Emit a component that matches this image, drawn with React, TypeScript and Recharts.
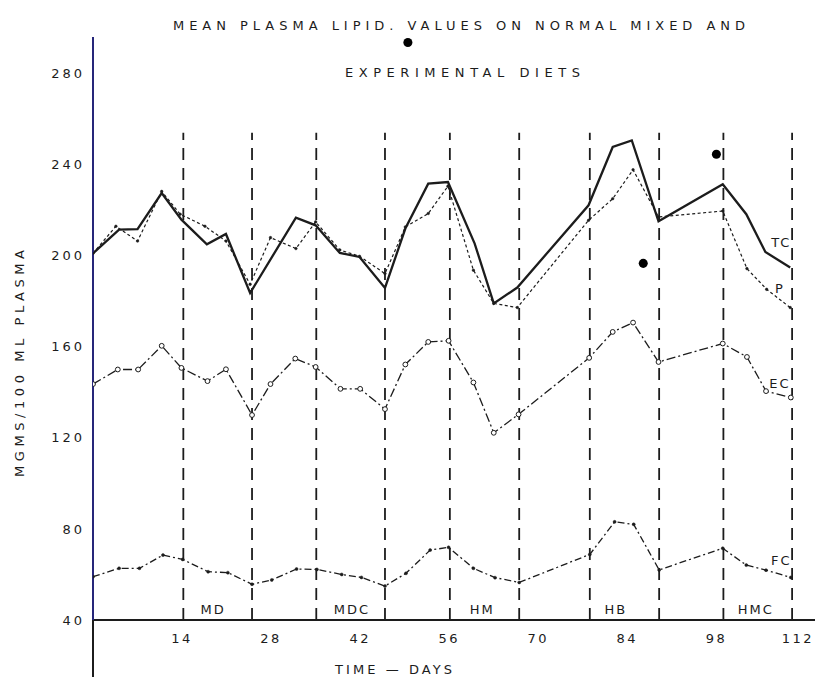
import React from "react";
import {
  ComposedChart,
  Line,
  Scatter,
  XAxis,
  YAxis,
  ReferenceLine,
} from "recharts";

// days; values in mgms / 100 ml plasma
const tcDays = [0, 4.1, 7.0, 10.8, 13.9, 17.9, 20.9, 24.7, 31.9, 35.0, 38.8, 41.9, 45.9, 49.1, 52.7, 55.8, 60.0, 63.0, 66.7, 77.9, 81.7, 84.7, 88.9, 99.0, 102.7, 105.7, 109.6];
const tcValues = [201, 211.4, 211.6, 227.5, 215.8, 205, 209.5, 183.6, 216.7, 213.3, 201.2, 199.4, 185.8, 211.9, 231.6, 232.3, 205.3, 179, 186, 222.1, 247.7, 250.6, 215.1, 231.3, 218.2, 201.6, 194.8];

const pDays = [0, 3.6, 7.0, 10.8, 13.7, 17.6, 20.9, 24.7, 27.9, 31.9, 35.0, 38.8, 41.9, 45.9, 49.1, 52.7, 55.8, 59.8, 63.0, 66.7, 77.9, 81.7, 84.9, 88.9, 99.0, 102.8, 105.9, 109.6];
const pValues = [201, 212.9, 206.4, 228.2, 218.2, 212.9, 206.4, 187.4, 207.9, 203.1, 214.8, 202.5, 199.7, 192.1, 212.6, 218.5, 230.5, 193.6, 179, 177.2, 215.5, 225, 237.7, 217, 219.6, 194.3, 185.2, 177.2];

const ecDays = [0, 3.9, 7.1, 10.8, 13.9, 18.0, 20.9, 25.0, 27.9, 31.8, 35.0, 38.9, 42.0, 45.9, 49.1, 52.7, 55.9, 59.8, 63.0, 66.9, 78.0, 81.7, 84.9, 88.9, 99.0, 102.8, 105.8, 109.7];
const ecValues = [143.6, 150, 150, 160.4, 150.7, 144.9, 150.1, 130, 143.6, 154.8, 151.1, 141.5, 141.5, 132.6, 152.2, 162.1, 162.6, 144.3, 122.2, 130.3, 155.1, 166.5, 170.6, 153.3, 161.4, 155.5, 140.5, 137.7];

const fcDays = [0, 4.1, 7.3, 11.0, 14.1, 18.1, 21.2, 25.0, 28.1, 32.0, 35.2, 39.1, 42.2, 45.9, 49.2, 53.0, 55.9, 59.8, 63.2, 67.0, 78.1, 82.0, 85.0, 89.0, 99.0, 102.7, 105.8, 109.7];
const fcValues = [59, 62.7, 62.7, 68.5, 66.6, 61.2, 60.8, 55.7, 57.6, 62.4, 62.2, 60, 58.7, 54.9, 60.5, 70.7, 71.9, 62.7, 58.6, 56.5, 68.8, 83.1, 82, 62, 71.5, 64.1, 61.9, 58.7];

const dietChangeDays = [14.2, 25, 35.1, 45.9, 56.1, 67, 78.1, 89, 99.1, 109.9];
const dietNames = ["MD", "MDC", "HM", "HB", "HMC"];
const dietLabelDays = [18.9, 40.7, 61.2, 82.2, 104.2];

const seriesNames = ["TC", "P", "EC", "FC"];
const seriesLabelDays = [108.2, 108, 108, 108.2];
const seriesLabelValues = [205.9, 185.7, 144, 66.3];

const strayDotDays = [49.5, 86.5, 98];
const strayDotValues = [293.6, 196.6, 244.5];

const xTicks = [14, 28, 42, 56, 70, 84, 98, 112];
const yTicks = [40, 80, 120, 160, 200, 240, 280];

const toPoints = (days: number[], vals: number[]) =>
  days.map((d, i) => ({ day: d, value: vals[i] }));

const tc = toPoints(tcDays, tcValues);
const p = toPoints(pDays, pValues);
const ec = toPoints(ecDays, ecValues);
const fc = toPoints(fcDays, fcValues);
const dietLabels = dietLabelDays.map((d, i) => ({ day: d, value: 44.4, name: dietNames[i] }));
const seriesLabels = seriesLabelDays.map((d, i) => ({ day: d, value: seriesLabelValues[i], name: seriesNames[i] }));
const strayDots = toPoints(strayDotDays, strayDotValues);

const FONT = "'DejaVu Sans', sans-serif";
const INK = "#1c1c1c";

function TextMark(props: any) {
  const { cx, cy, payload } = props;
  return (
    <text
      x={cx}
      y={cy}
      textAnchor="middle"
      dominantBaseline="central"
      fontFamily={FONT}
      fontSize={13}
      letterSpacing={2}
      fill={INK}
    >
      {payload.name}
    </text>
  );
}

function XTick(props: any) {
  const { x, y, payload } = props;
  // keep the last label inside the page
  const cx = Math.min(x, 798);
  return (
    <text
      x={cx}
      y={y}
      dy="0.71em"
      textAnchor="middle"
      fontFamily={FONT}
      fontSize={13}
      letterSpacing={2.5}
      fill={INK}
    >
      {payload.value}
    </text>
  );
}

export default function App() {
  return (
    <div style={{ position: "absolute", left: 0, top: 0, width: 816, height: 677, background: "#fff" }}>
      <ComposedChart width={816} height={677} margin={{ top: 37, right: 1, bottom: 0, left: 0 }}>
        <XAxis
          type="number"
          dataKey="day"
          domain={[0, 113.5]}
          ticks={xTicks}
          allowDataOverflow
          height={57}
          axisLine={{ stroke: INK, strokeWidth: 2 }}
          tickLine={false}
          tickSize={0}
          tickMargin={14}
          tick={<XTick />}
        />
        <YAxis
          type="number"
          dataKey="value"
          domain={[40, 296]}
          ticks={yTicks}
          allowDataOverflow
          width={93}
          axisLine={{ stroke: "#26267a", strokeWidth: 2 }}
          tickLine={false}
          tickSize={0}
          tickMargin={8}
          tick={{ fontFamily: FONT, fontSize: 13, fill: INK, letterSpacing: 3 }}
        />
        {/* axis continues below the zero line */}
        <ReferenceLine
          segment={[{ x: 0, y: 40 }, { x: 0, y: 15 }]}
          stroke={INK}
          strokeWidth={2}
          ifOverflow="visible"
        />
        {dietChangeDays.map((d) => (
          <ReferenceLine
            key={d}
            segment={[{ x: d, y: 40 }, { x: d, y: 254 }]}
            stroke={INK}
            strokeWidth={1.8}
            strokeDasharray="12 8"
            ifOverflow="visible"
          />
        ))}
        <Line
          data={tc}
          dataKey="value"
          type="linear"
          stroke={INK}
          strokeWidth={2.3}
          dot={false}
          isAnimationActive={false}
        />
        <Line
          data={p}
          dataKey="value"
          type="linear"
          stroke={INK}
          strokeWidth={1.2}
          strokeDasharray="3 2.5"
          dot={{ r: 1.3, fill: INK, stroke: INK, strokeWidth: 0.5, strokeDasharray: "0" }}
          isAnimationActive={false}
        />
        <Line
          data={ec}
          dataKey="value"
          type="linear"
          stroke={INK}
          strokeWidth={1.3}
          strokeDasharray="9 3 2 3"
          dot={{ r: 2.4, fill: "#fff", stroke: INK, strokeWidth: 1, strokeDasharray: "0" }}
          isAnimationActive={false}
        />
        <Line
          data={fc}
          dataKey="value"
          type="linear"
          stroke={INK}
          strokeWidth={1.3}
          strokeDasharray="7 3 2 3"
          dot={{ r: 1.5, fill: INK, stroke: INK, strokeWidth: 0.5, strokeDasharray: "0" }}
          isAnimationActive={false}
        />
        <Scatter data={strayDots} dataKey="value" fill="#000" shape="circle" isAnimationActive={false} />
        <Scatter data={dietLabels} dataKey="value" shape={<TextMark />} isAnimationActive={false} />
        <Scatter data={seriesLabels} dataKey="value" shape={<TextMark />} isAnimationActive={false} />
      </ComposedChart>
      <svg
        width={816}
        height={677}
        style={{ position: "absolute", left: 0, top: 0, pointerEvents: "none" }}
      >
        <text x={173} y={30} fontFamily={FONT} fontSize={13} fill={INK} textLength={572} lengthAdjust="spacing">
          MEAN PLASMA LIPID. VALUES ON NORMAL MIXED AND
        </text>
        <text x={345} y={77} fontFamily={FONT} fontSize={13} fill={INK} textLength={235} lengthAdjust="spacing">
          EXPERIMENTAL DIETS
        </text>
        <text
          transform="translate(24,364) rotate(-90)"
          x={-113}
          y={0}
          fontFamily={FONT}
          fontSize={13}
          fill={INK}
          textLength={227}
          lengthAdjust="spacing"
        >
          MGMS/100 ML PLASMA
        </text>
        <text x={335} y={674} fontFamily={FONT} fontSize={13} fill={INK} textLength={117} lengthAdjust="spacing">
          TIME — DAYS
        </text>
      </svg>
    </div>
  );
}
